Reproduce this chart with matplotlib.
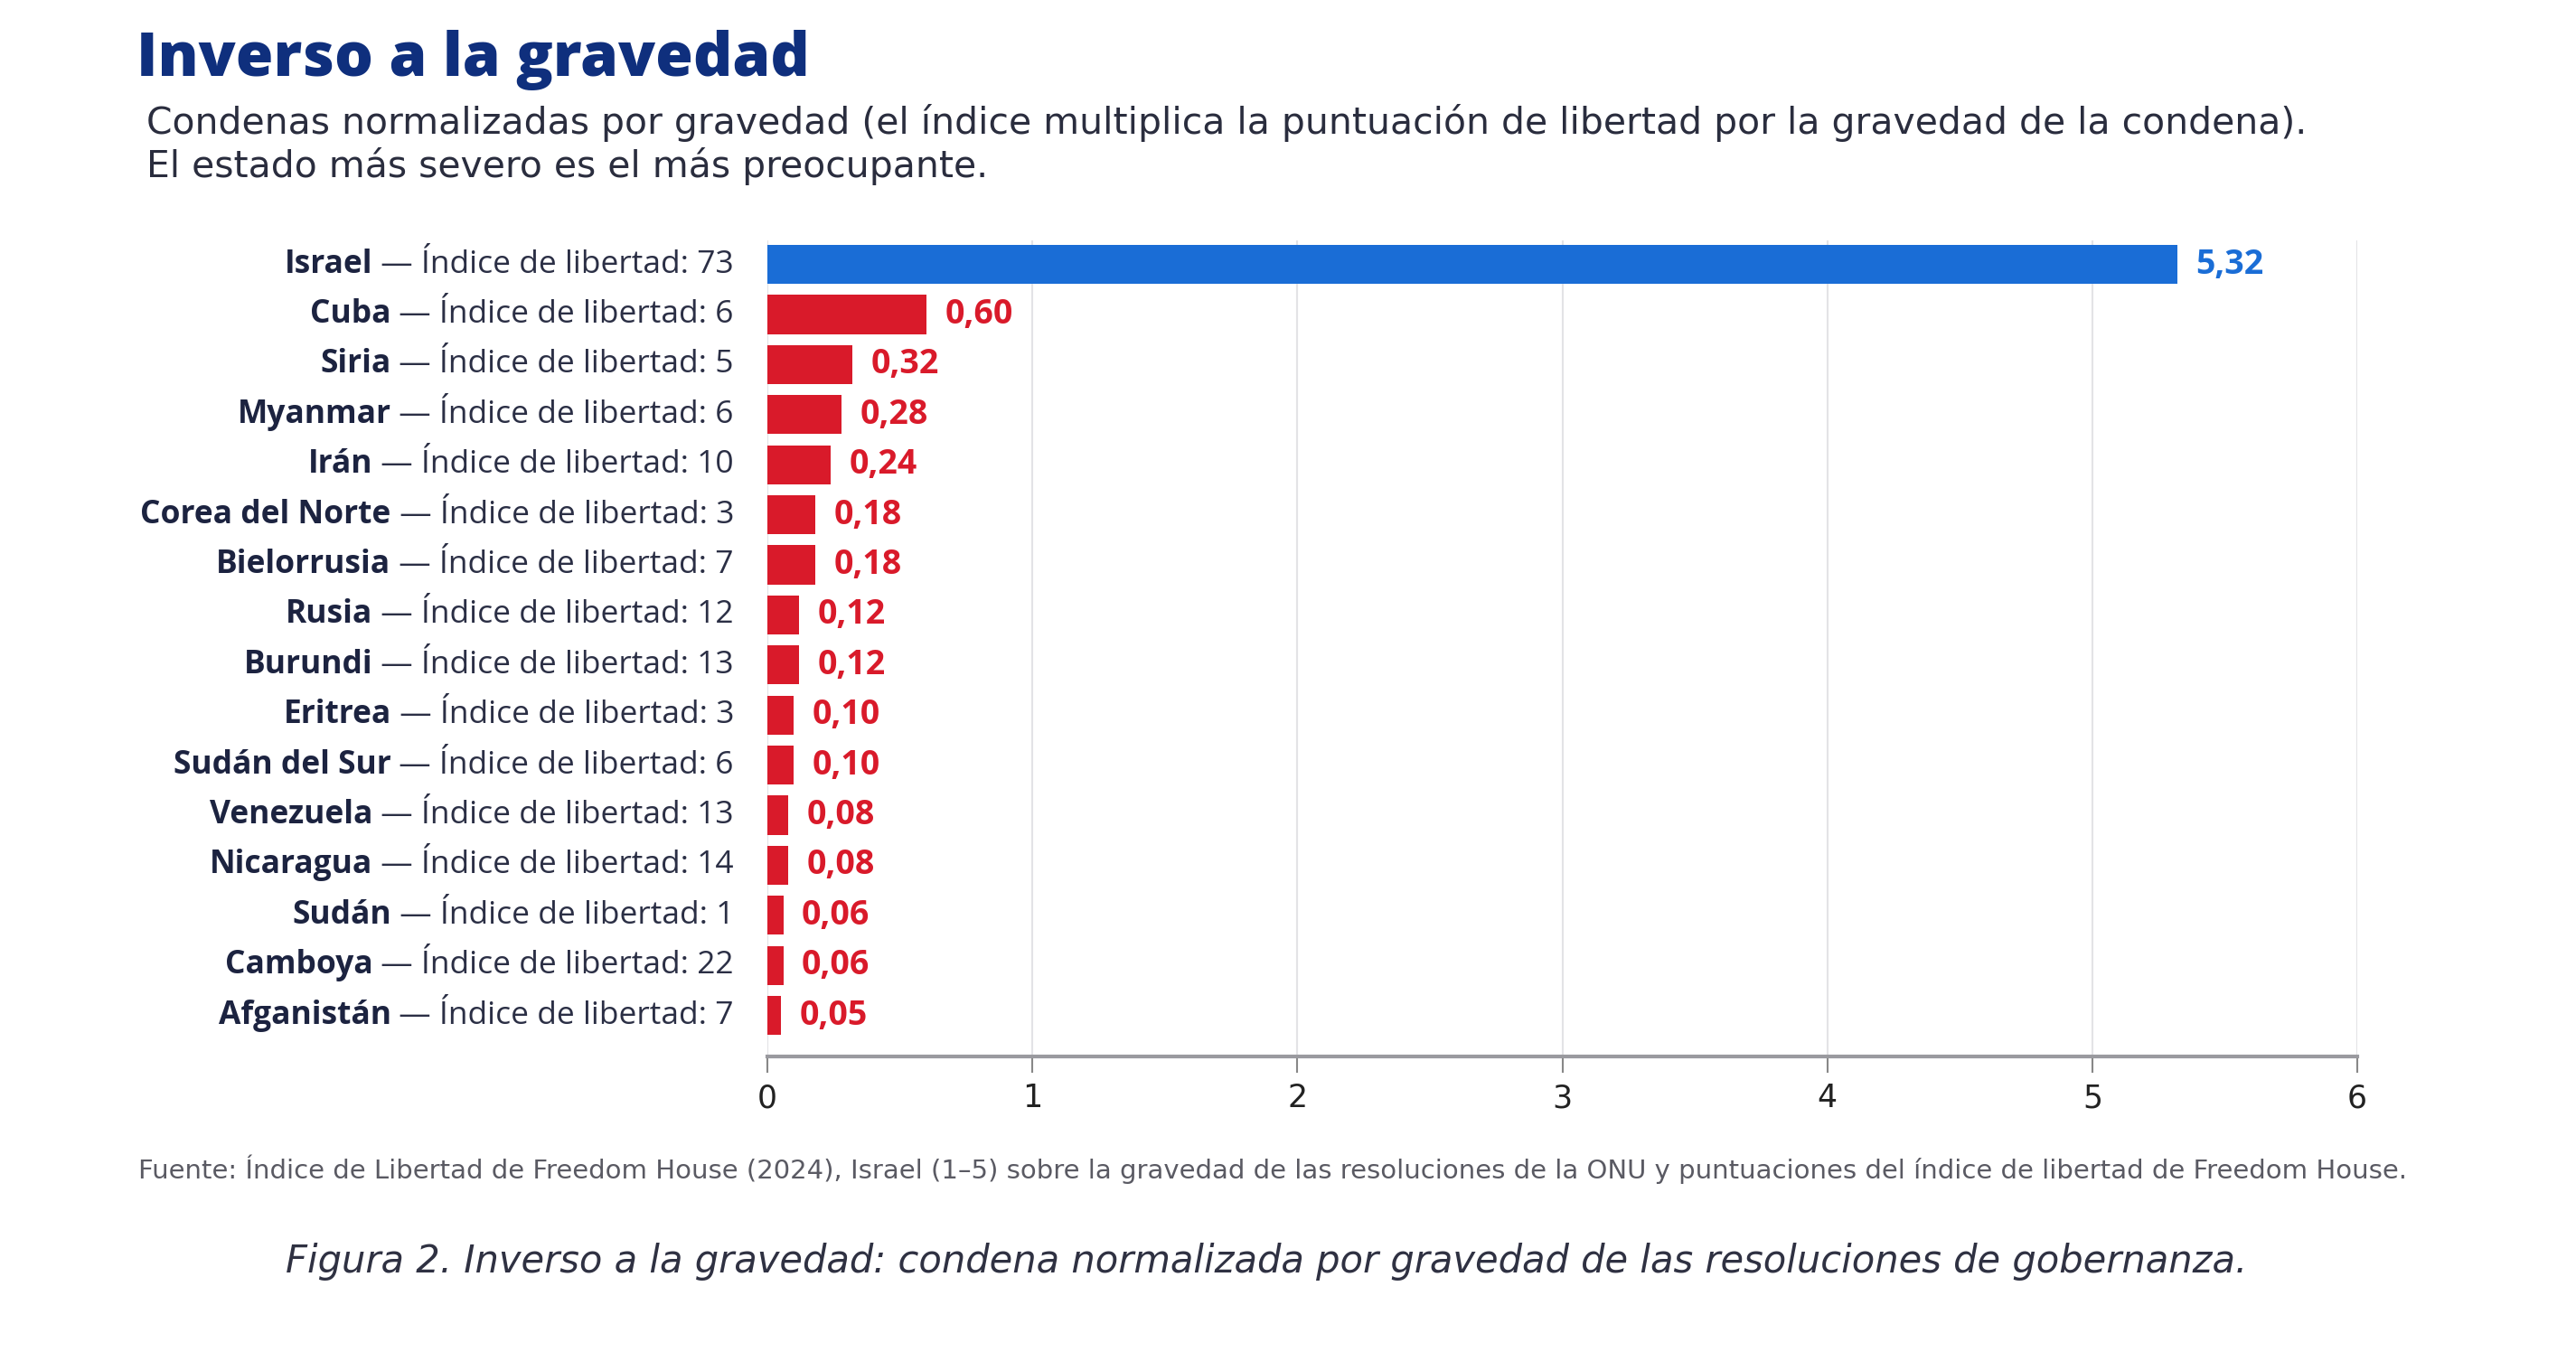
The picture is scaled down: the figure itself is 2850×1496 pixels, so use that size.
import matplotlib
matplotlib.use('Agg')
import matplotlib.pyplot as plt

# data
countries = ['Israel', 'Cuba', 'Siria', 'Myanmar', 'Irán', 'Corea del Norte',
             'Bielorrusia', 'Rusia', 'Burundi', 'Eritrea', 'Sudán del Sur',
             'Venezuela', 'Nicaragua', 'Sudán', 'Camboya', 'Afganistán']
freedom_index = [73, 6, 5, 6, 10, 3, 7, 12, 13, 3, 6, 13, 14, 1, 22, 7]
severity = [5.32, 0.60, 0.32, 0.28, 0.24, 0.18, 0.18, 0.12, 0.12, 0.10,
            0.10, 0.08, 0.08, 0.06, 0.06, 0.05]
x_ticks = [0, 1, 2, 3, 4, 5, 6]

BLUE = '#1a6dd6'
RED = '#d91a2a'
NAVY = '#0f2f7d'
DARK = '#1c2340'
GREY = '#5a5a63'

W, H = 2850, 1496
fig = plt.figure(figsize=(W / 100, H / 100), dpi=100)
fig.patch.set_facecolor('white')

ax = fig.add_axes([849 / W, 1 - 1169 / H, (2608 - 849) / W, (1169 - 266) / H])

ypos = list(range(len(countries)))
colors = [BLUE if c == 'Israel' else RED for c in countries]
ax.barh(ypos, severity, height=0.78, color=colors, zorder=3)

ax.set_xlim(0, 6)
ax.set_ylim(15.82, -0.48)
ax.set_xticks(x_ticks)
ax.set_xticklabels([str(t) for t in x_ticks], fontsize=25, color='#222222',
                   family='DejaVu Sans')
ax.set_yticks([])
ax.grid(axis='x', color='#e3e3e6', linewidth=1.5, zorder=0)
for side in ['top', 'right', 'left']:
    ax.spines[side].set_visible(False)
ax.spines['bottom'].set_color('#9a9a9f')
ax.spines['bottom'].set_linewidth(3)
ax.tick_params(axis='x', length=13, width=1.5, color='#888888', pad=8)

# value labels
for y, v, c in zip(ypos, severity, colors):
    ax.text(v + 0.07, y, '{:.2f}'.format(v).replace('.', ','), va='center',
            ha='left', fontsize=27, fontweight='bold', color=c,
            family='Open Sans', zorder=4)

# country labels: bold name + regular index, right aligned
fig.canvas.draw()
renderer = fig.canvas.get_renderer()
label_x = 812 / W
for y, name, idx in zip(ypos, countries, freedom_index):
    yfig = fig.transFigure.inverted().transform(ax.transData.transform((0, y)))[1]
    rest = fig.text(label_x, yfig, ' \u2014 \u00cdndice de libertad: {}'.format(idx),
                    ha='right', va='center', fontsize=25.5, color='#2b2f45',
                    family='Open Sans')
    bb = rest.get_window_extent(renderer)
    fig.text(bb.x0 / W, yfig, name, ha='right', va='center', fontsize=25.5,
             fontweight='bold', color=DARK, family='Open Sans')

# titles and notes
fig.text(151 / W, 1 - 67 / H, 'Inverso a la gravedad', ha='left', va='center',
         fontsize=48.5, fontweight='heavy', color=NAVY, family='Open Sans')
fig.text(162 / W, 1 - 136 / H,
         'Condenas normalizadas por gravedad (el \u00edndice multiplica la puntuaci\u00f3n '
         'de libertad por la gravedad de la condena).',
         ha='left', va='center', fontsize=29.4, color='#2a2d3e', family='DejaVu Sans')
fig.text(162 / W, 1 - 184 / H, 'El estado m\u00e1s severo es el m\u00e1s preocupante.',
         ha='left', va='center', fontsize=29.4, color='#2a2d3e', family='DejaVu Sans')
fig.text(153 / W, 1 - 1294 / H,
         'Fuente: \u00cdndice de Libertad de Freedom House (2024), Israel (1\u20135) sobre la '
         'gravedad de las resoluciones de la ONU y puntuaciones del \u00edndice de libertad '
         'de Freedom House.',
         ha='left', va='center', fontsize=21, color=GREY, family='DejaVu Sans')
fig.text(1401 / W, 1 - 1396 / H,
         'Figura 2. Inverso a la gravedad: condena normalizada por gravedad de las '
         'resoluciones de gobernanza.',
         ha='center', va='center', fontsize=30, style='italic', color='#2f3142',
         family='DejaVu Sans')

fig.savefig('out.png', dpi=100, facecolor='white')
